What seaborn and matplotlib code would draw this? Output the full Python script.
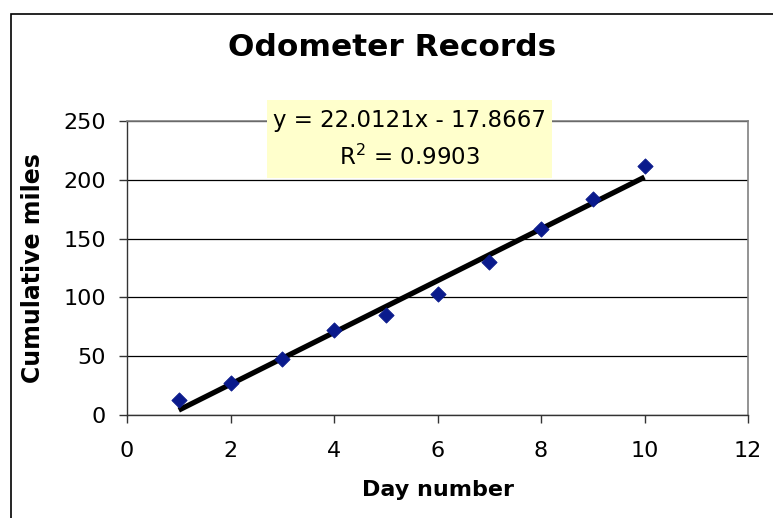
import matplotlib
import matplotlib.pyplot as plt
import pandas as pd
import seaborn as sns
from matplotlib.patches import Rectangle

matplotlib.use('agg')

# odometer readings
day_number = [1, 2, 3, 4, 5, 6, 7, 8, 9, 10]
cumulative_miles = [13, 27, 48, 72, 85, 103, 130, 158, 184, 212]
trend_lines = ['y = 22.0121x - 17.8667', 'R$^2$ = 0.9903']

df = pd.DataFrame({'Day number': day_number, 'Cumulative miles': cumulative_miles})

sns.set_style('white')
plt.rcParams['font.family'] = ['DejaVu Sans']
plt.rcParams['text.color'] = 'black'
plt.rcParams['axes.labelcolor'] = 'black'
plt.rcParams['xtick.color'] = 'black'
plt.rcParams['ytick.color'] = 'black'

fig = plt.figure(figsize=(7.73, 5.18), dpi=100)
ax = fig.add_axes([127 / 773, 103 / 518, 621 / 773, 294 / 518])

# outer chart border
fig.patches.append(Rectangle((11 / 773, -0.05), 1.1, 1.05 - 14 / 518, transform=fig.transFigure,
                             fill=False, edgecolor='black', linewidth=1.2))

sns.regplot(x='Day number', y='Cumulative miles', data=df, ax=ax, scatter=False, ci=None,
            truncate=True, line_kws=dict(color='black', linewidth=3.8, solid_capstyle='butt'))
sns.scatterplot(x='Day number', y='Cumulative miles', data=df, ax=ax, marker='D', s=60,
                color='#0a1a8c', edgecolor='#0a1a8c', zorder=3)

ax.set_xlim(0, 12)
ax.set_ylim(0, 250)
ax.set_xticks(range(0, 13, 2))
ax.set_yticks(range(0, 251, 50))
ax.yaxis.grid(True, color='black', linewidth=0.9)
ax.set_axisbelow(True)
for side in ['top', 'right']:
    ax.spines[side].set_color('#808080')
    ax.spines[side].set_linewidth(1.2)
for side in ['left', 'bottom']:
    ax.spines[side].set_color('#333333')
    ax.spines[side].set_linewidth(1.0)
ax.tick_params(axis='both', direction='out', length=6, width=1, color='#333333',
               labelsize=16, bottom=True, left=True)
ax.tick_params(axis='x', pad=13)
ax.tick_params(axis='y', pad=9)

ax.set_xlabel('Day number', fontsize=16, fontweight='bold', va='center')
ax.set_ylabel('Cumulative miles', fontsize=17, fontweight='bold', va='center')
ax.xaxis.set_label_coords(0.5, (415 - 490) / 294)
ax.yaxis.set_label_coords((33 - 127) / 621, 0.5)

fig.text(392 / 773, 1 - 47 / 518, 'Odometer Records', fontsize=22.5, fontweight='bold',
         ha='center', va='center')

# trendline label box (Excel style)
ax.add_patch(Rectangle((140 / 51.75, 237 / 1.176), 285 / 51.75, 78 / 1.176,
                       facecolor='#ffffcc', edgecolor='none', clip_on=False, zorder=4))
ax.text(5.46, 295 / 1.176, trend_lines[0], fontsize=16.5, ha='center', va='center', zorder=5)
ax.text(5.46, 258 / 1.176, trend_lines[1], fontsize=16.5, ha='center', va='center', zorder=5)

plt.savefig('out.png', dpi=100)
